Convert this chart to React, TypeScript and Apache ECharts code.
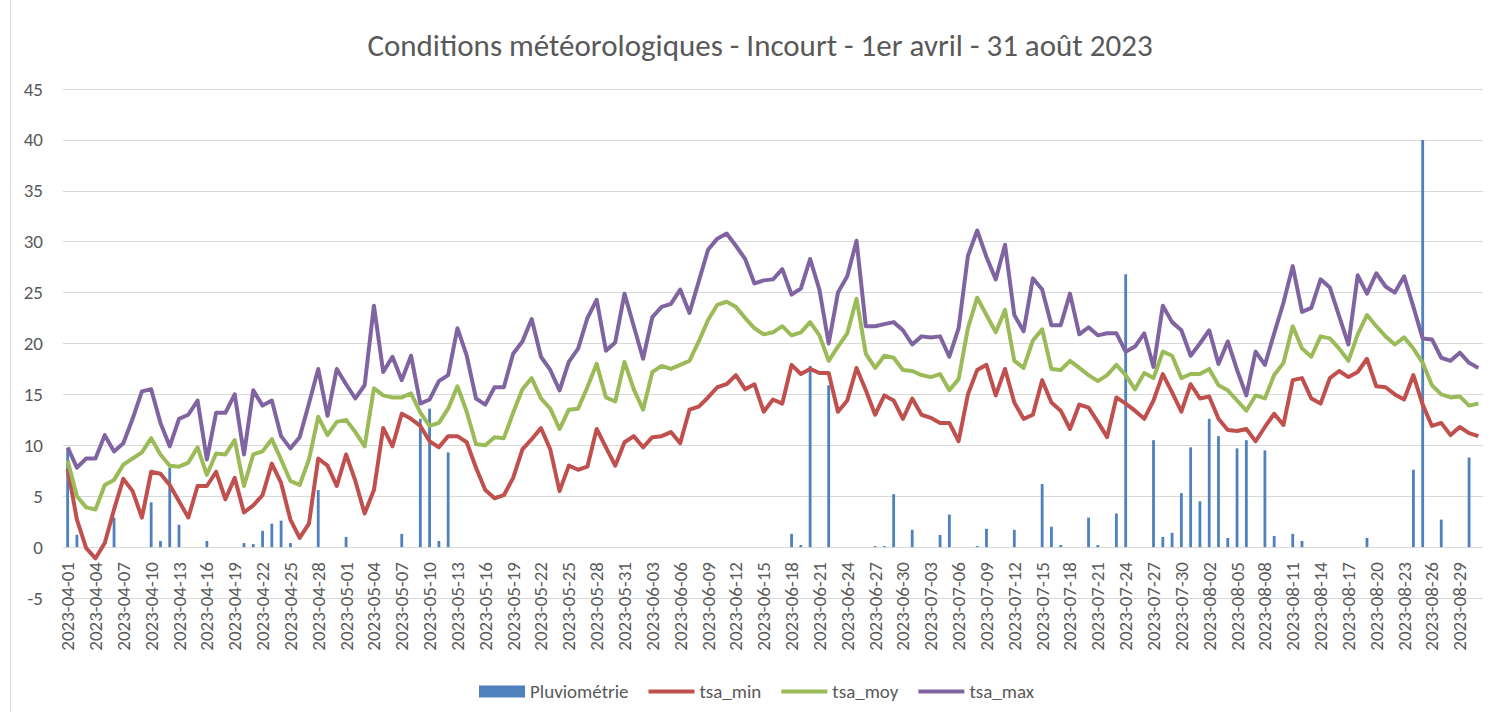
import React, { useEffect, useRef } from "react";
import * as echarts from "echarts";

// Rain (mm) per day, 2023-04-01 .. 2023-08-31
const rainApr = [9.6, 1.2, 0, 0, 0, 2.9, 0, 0, 0, 4.4, 0.6, 7.8, 2.2, 0, 0, 0.6, 0, 0, 0, 0.4, 0.3, 1.6, 2.3, 2.6, 0.4, 0, 0, 5.6, 0, 0];
const rainMay = [1.0, 0, 0, 0, 0, 0, 1.3, 0, 12.6, 13.6, 0.6, 9.3, 0, 0, 0, 0, 0, 0, 0, 0, 0, 0, 0, 0, 0, 0, 0, 0, 0, 0, 0];
const rainJun = [0, 0, 0, 0, 0, 0, 0, 0, 0, 0, 0, 0, 0, 0, 0, 0, 0, 1.3, 0.2, 17.8, 0, 15.9, 0, 0, 0, 0, 0.1, 0.1, 5.2, 0];
const rainJul = [1.7, 0, 0, 1.2, 3.2, 0, 0, 0.1, 1.8, 0, 0, 1.7, 0, 0, 6.2, 2.0, 0.2, 0, 0, 2.9, 0.2, 0, 3.3, 26.8, 0, 0, 10.5, 1.0, 1.4, 5.3, 9.8];
const rainAug = [4.5, 12.6, 10.9, 0.9, 9.7, 10.5, 0, 9.5, 1.1, 0, 1.3, 0.6, 0, 0, 0, 0, 0, 0, 0.9, 0, 0, 0, 0, 7.6, 40.0, 0, 2.7, 0, 0, 8.8, 0];
const pluviometrie = [...rainApr, ...rainMay, ...rainJun, ...rainJul, ...rainAug];

const tsaMin = [
  7.7, 2.7, -0.1, -1.1, 0.4, 3.7, 6.7, 5.5, 2.9, 7.4, 7.2, 6.1, 4.5, 2.9, 6.0, 6.0, 7.4, 4.7, 6.8, 3.4, 4.1, 5.1, 8.2, 6.3, 2.7, 0.9,
  2.3, 8.7, 8.0, 6.0, 9.1, 6.5, 3.3, 5.6, 11.7, 9.9, 13.1, 12.6, 11.9, 10.4, 9.8, 10.9, 10.9, 10.3, 7.8, 5.6, 4.8, 5.1, 6.8, 9.6, 10.6, 11.7,
  9.6, 5.5, 8.0, 7.6, 7.9, 11.6, 9.8, 8.0, 10.3, 10.9, 9.8, 10.8, 10.9, 11.3, 10.2, 13.5, 13.8, 14.7, 15.7, 16.0, 16.9, 15.5, 16.0, 13.3, 14.5, 14.1,
  17.9, 17.0, 17.5, 17.1, 17.1, 13.3, 14.4, 17.6, 15.4, 13.0, 14.9, 14.4, 12.6, 14.6, 13.0, 12.7, 12.2, 12.2, 10.4, 15.0, 17.4, 17.9, 14.9, 17.5, 14.2, 12.6,
  13.0, 16.4, 14.2, 13.4, 11.6, 14.0, 13.7, 12.3, 10.8, 14.7, 14.1, 13.4, 12.6, 14.4, 17.0, 15.2, 13.3, 16.0, 14.6, 14.8, 12.6, 11.5, 11.4, 11.6, 10.4, 11.8,
  13.1, 12.0, 16.4, 16.6, 14.6, 14.1, 16.6, 17.3, 16.7, 17.2, 18.5, 15.8, 15.7, 15.0, 14.5, 16.9, 14.0, 11.9, 12.2, 11.0, 11.8, 11.2, 10.9,
];

const tsaMoy = [
  8.5, 5.0, 3.9, 3.7, 6.1, 6.6, 8.1, 8.7, 9.3, 10.7, 9.1, 8.0, 7.9, 8.3, 9.8, 7.1, 9.2, 9.1, 10.5, 6.0, 9.1, 9.4, 10.6, 8.6, 6.5, 6.1,
  8.6, 12.8, 11.0, 12.3, 12.5, 11.3, 9.9, 15.6, 14.9, 14.7, 14.7, 15.1, 13.2, 11.9, 12.2, 13.6, 15.8, 13.3, 10.1, 10.0, 10.8, 10.7, 13.2, 15.5, 16.6, 14.6,
  13.6, 11.6, 13.5, 13.6, 15.7, 18.0, 14.7, 14.3, 18.2, 15.5, 13.5, 17.2, 17.8, 17.5, 17.9, 18.3, 20.2, 22.3, 23.8, 24.1, 23.6, 22.5, 21.5, 20.9, 21.1, 21.7,
  20.8, 21.1, 22.1, 20.8, 18.3, 19.7, 21.0, 24.4, 19.0, 17.6, 18.8, 18.6, 17.4, 17.3, 16.9, 16.7, 17.0, 15.4, 16.5, 21.5, 24.5, 22.8, 21.1, 23.3, 18.3, 17.6,
  20.3, 21.4, 17.5, 17.4, 18.3, 17.6, 16.9, 16.3, 16.9, 17.9, 16.9, 15.5, 17.1, 16.6, 19.2, 18.8, 16.6, 17.0, 17.0, 17.5, 15.9, 15.4, 14.4, 13.4, 14.9, 14.6,
  16.9, 18.1, 21.7, 19.5, 18.7, 20.7, 20.5, 19.5, 18.3, 20.9, 22.8, 21.7, 20.7, 19.9, 20.6, 19.5, 18.1, 15.9, 15.0, 14.7, 14.8, 13.9, 14.1,
];

const tsaMax = [
  9.8, 7.8, 8.7, 8.7, 11.0, 9.4, 10.2, 12.6, 15.3, 15.5, 12.2, 9.9, 12.6, 13.0, 14.4, 8.6, 13.2, 13.2, 15.0, 9.1, 15.4, 13.9, 14.4, 10.9, 9.7, 10.8,
  14.1, 17.5, 12.9, 17.5, 16.0, 14.6, 15.9, 23.7, 17.2, 18.7, 16.4, 18.8, 14.1, 14.5, 16.3, 16.9, 21.5, 18.8, 14.6, 14.0, 15.7, 15.7, 19.0, 20.2, 22.4, 18.7,
  17.4, 15.4, 18.2, 19.5, 22.5, 24.3, 19.3, 20.1, 24.9, 21.7, 18.5, 22.6, 23.6, 23.9, 25.3, 23.0, 26.1, 29.2, 30.3, 30.8, 29.6, 28.3, 25.9, 26.2, 26.3, 27.3,
  24.8, 25.4, 28.3, 25.3, 20.0, 25.0, 26.6, 30.1, 21.7, 21.7, 21.9, 22.1, 21.3, 19.9, 20.7, 20.6, 20.7, 18.7, 21.5, 28.6, 31.1, 28.5, 26.3, 29.7, 22.8, 21.2,
  26.4, 25.3, 21.8, 21.8, 24.9, 20.9, 21.6, 20.8, 21.0, 21.0, 19.2, 19.7, 21.0, 17.7, 23.7, 22.1, 21.3, 18.8, 20.0, 21.3, 18.0, 20.2, 17.4, 14.9, 19.2, 17.9,
  21.0, 24.0, 27.6, 23.1, 23.5, 26.3, 25.5, 22.7, 19.9, 26.7, 24.9, 26.9, 25.6, 25.0, 26.6, 23.6, 20.5, 20.4, 18.6, 18.3, 19.1, 18.1, 17.6,
];

const monthLengths = [30, 31, 30, 31, 31];
const monthNumbers = ["04", "05", "06", "07", "08"];
const dates: string[] = [];
monthLengths.forEach((len, m) => {
  for (let d = 1; d <= len; d++) dates.push(`2023-${monthNumbers[m]}-${String(d).padStart(2, "0")}`);
});

const yTicks = { min: -5, max: 45, interval: 5 };
const titleText = "Conditions météorologiques - Incourt - 1er avril - 31 août 2023";
const FONT = 'Carlito, "Liberation Sans", Arial, sans-serif';
const TXT = "#595959";
const LINE_ICON = "path://M0,0 H46 V4 H0 Z";
const BAR_ICON = "path://M0,0 H46 V12 H0 Z";

export default function App() {
  const ref = useRef<HTMLDivElement>(null);
  useEffect(() => {
    document.body.style.margin = "0";
    const chart = echarts.init(ref.current!, null, { renderer: "svg" });
    chart.setOption({
      animation: false,
      backgroundColor: "#ffffff",
      textStyle: { fontFamily: FONT, color: TXT },
      graphic: [
        {
          type: "line",
          shape: { x1: 10.5, y1: 0, x2: 10.5, y2: 712 },
          style: { stroke: "#d9d9d9", lineWidth: 1 },
          silent: true,
        },
        {
          type: "text",
          x: 760,
          y: 45,
          style: {
            text: titleText,
            fill: TXT,
            font: `31px ${FONT}`,
            textAlign: "center",
            textVerticalAlign: "middle",
          },
        },
      ],
      grid: { left: 63, right: 12, top: 89, bottom: 114, containLabel: false },
      legend: {
        left: 474,
        top: 677,
        itemGap: 20,
        itemWidth: 46,
        itemHeight: 12,
        textStyle: { fontFamily: FONT, fontSize: 19, color: TXT },
        data: [
          { name: "Pluviométrie", icon: BAR_ICON },
          { name: "tsa_min", icon: LINE_ICON },
          { name: "tsa_moy", icon: LINE_ICON },
          { name: "tsa_max", icon: LINE_ICON },
        ],
      },
      xAxis: {
        type: "category",
        data: dates,
        boundaryGap: true,
        axisLine: { show: false, onZero: false },
        axisTick: { show: false },
        axisLabel: {
          interval: 2,
          rotate: 90,
          margin: -36,
          fontFamily: FONT,
          fontSize: 19,
          color: TXT,
        },
        splitLine: { show: false },
      },
      yAxis: {
        type: "value",
        min: yTicks.min,
        max: yTicks.max,
        interval: yTicks.interval,
        axisLine: { show: false },
        axisTick: { show: false },
        axisLabel: { margin: 20, fontFamily: FONT, fontSize: 19, color: TXT },
        splitLine: { lineStyle: { color: "#d9d9d9", width: 1 } },
      },
      series: [
        {
          name: "Pluviométrie",
          type: "bar",
          data: pluviometrie,
          barWidth: 2.8,
          itemStyle: { color: "#4f81bd" },
          z: 1,
        },
        {
          name: "tsa_min",
          type: "line",
          data: tsaMin,
          symbol: "none",
          lineStyle: { color: "#c0504d", width: 4, join: "round" },
          itemStyle: { color: "#c0504d" },
          z: 3,
        },
        {
          name: "tsa_moy",
          type: "line",
          data: tsaMoy,
          symbol: "none",
          lineStyle: { color: "#9bbb59", width: 4, join: "round" },
          itemStyle: { color: "#9bbb59" },
          z: 3,
        },
        {
          name: "tsa_max",
          type: "line",
          data: tsaMax,
          symbol: "none",
          lineStyle: { color: "#8064a2", width: 4, join: "round" },
          itemStyle: { color: "#8064a2" },
          z: 3,
        },
      ],
    });
    return () => chart.dispose();
  }, []);
  return <div ref={ref} style={{ width: 1495, height: 712 }} />;
}
